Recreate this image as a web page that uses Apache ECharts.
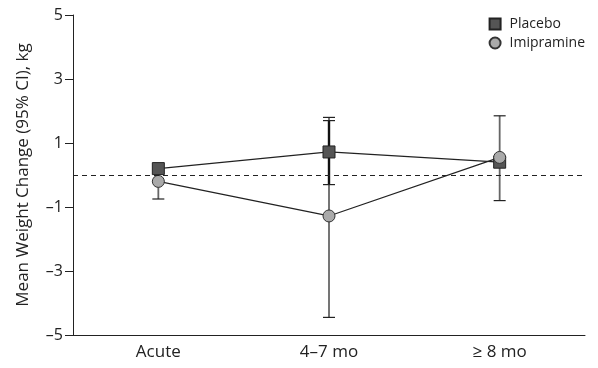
<!DOCTYPE html>
<html><head><meta charset="utf-8">
<script src="https://cdn.jsdelivr.net/npm/echarts@6/dist/echarts.min.js"></script>
<style>html,body{margin:0;padding:0;background:#fff}#c{width:598px;height:368px}</style>
</head><body><div id="c"></div>
<script>
const categories = ['Acute', '4\u20137 mo', '\u2265 8 mo'];
const placeboMean = [0.2, 0.72, 0.4];
const placeboLow = [null, -0.3, null];
const placeboHigh = [null, 1.7, null];
const imipramineMean = [-0.2, -1.28, 0.55];
const imipramineLow = [-0.75, -4.45, -0.8];
const imipramineHigh = [null, 1.8, 1.85];
const yTicks = [-5, -3, -1, 1, 3, 5];

const font = 'Open Sans, Liberation Sans, sans-serif';
function errData(low, high, mean) {
  return categories.map((c, i) => [i, low[i] == null ? mean[i] : low[i], high[i] == null ? mean[i] : high[i]]);
}
function errRender(color, width) {
  return function (params, api) {
    const x = api.value(0);
    const lo = api.coord([x, api.value(1)]);
    const hi = api.coord([x, api.value(2)]);
    const cap = 6;
    const children = [];
    if (Math.abs(lo[1] - hi[1]) > 0.5) {
      children.push({ type: 'line', shape: { x1: lo[0], y1: lo[1], x2: hi[0], y2: hi[1] }, style: { stroke: color, lineWidth: width } });
      children.push({ type: 'line', shape: { x1: lo[0] - cap, y1: lo[1], x2: lo[0] + cap, y2: lo[1] }, style: { stroke: '#222', lineWidth: 1.2 } });
      children.push({ type: 'line', shape: { x1: hi[0] - cap, y1: hi[1], x2: hi[0] + cap, y2: hi[1] }, style: { stroke: '#222', lineWidth: 1.2 } });
    }
    return { type: 'group', children };
  };
}
const chart = echarts.init(document.getElementById('c'), null, { renderer: 'canvas' });
chart.setOption({
  animation: false,
  textStyle: { fontFamily: font },
  grid: { left: 73, right: 13, top: 15, bottom: 33 },
  legend: {
    right: 8, top: 12, orient: 'vertical', itemGap: 5, itemWidth: 11, itemHeight: 11,
    textStyle: { fontSize: 14, color: '#222', fontFamily: font, padding: [0, 0, 0, 4] },
    data: [{ name: 'Placebo', icon: 'rect' }, { name: 'Imipramine', icon: 'circle' }]
  },
  xAxis: {
    type: 'category', data: categories, boundaryGap: true,
    axisLine: { onZero: false, lineStyle: { color: '#222', width: 1 } },
    axisTick: { alignWithLabel: true, length: 7, lineStyle: { color: '#222' } },
    axisLabel: { color: '#222', fontSize: 17, margin: 9, fontFamily: font }
  },
  yAxis: {
    type: 'value', min: -5, max: 5, interval: 2,
    name: 'Mean Weight Change (95% CI), kg', nameLocation: 'middle', nameGap: 41, nameRotate: 90,
    nameTextStyle: { fontSize: 17, color: '#222', fontFamily: font },
    splitLine: { show: false },
    axisLine: { show: true, lineStyle: { color: '#222', width: 1 } },
    axisTick: { show: true, length: 8, lineStyle: { color: '#222' } },
    axisLabel: { color: '#222', fontSize: 16, margin: 10, fontFamily: font,
      formatter: v => yTicks.includes(v) ? String(v).replace('-', '\u2013') : '' }
  },
  series: [
    { type: 'custom', name: 'impErr', renderItem: errRender('#666', 1.8), data: errData(imipramineLow, imipramineHigh, imipramineMean), z: 1, silent: true },
    { type: 'custom', name: 'plaErr', renderItem: errRender('#111', 2.4), data: errData(placeboLow, placeboHigh, placeboMean), z: 2, silent: true },
    {
      type: 'line', name: 'Placebo', data: placeboMean, z: 3,
      symbol: 'rect', symbolSize: 12,
      lineStyle: { color: '#222', width: 1.2 },
      itemStyle: { color: '#555', borderColor: '#222', borderWidth: 1 },
      markLine: { silent: true, symbol: 'none', label: { show: false },
        lineStyle: { color: '#222', type: [5, 4], width: 1 }, data: [{ yAxis: 0 }] }
    },
    {
      type: 'line', name: 'Imipramine', data: imipramineMean, z: 4,
      symbol: 'circle', symbolSize: 12,
      lineStyle: { color: '#222', width: 1.2 },
      itemStyle: { color: '#aaa', borderColor: '#333', borderWidth: 1 }
    }
  ]
});
</script></body></html>
